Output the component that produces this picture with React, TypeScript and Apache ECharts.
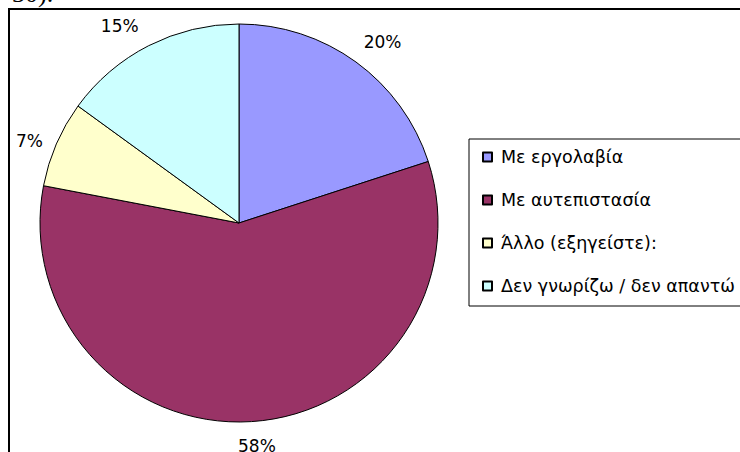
import React, { useEffect, useRef } from "react";
import * as echarts from "echarts";

const categories = ["Με εργολαβία", "Με αυτεπιστασία", "Άλλο (εξηγείστε):", "Δεν γνωρίζω / δεν απαντώ"];
const values = [20, 58, 7, 15];
const colors = ["#9999FF", "#993366", "#FFFFCC", "#CCFFFF"];

// per-slice label placement tweaks (label line length / distance), to mimic the original layout
const labelLineLengths = [25, 24, 8, 22];
const labelDistances = [-7, -15, 6, 0];

const FONT = "'DejaVu Sans', Verdana, sans-serif";

export default function App() {
  const ref = useRef<HTMLDivElement>(null);
  useEffect(() => {
    if (!ref.current) return;
    const chart = echarts.init(ref.current, null, { renderer: "svg" });
    chart.setOption({
      animation: false,
      backgroundColor: "#ffffff",
      graphic: [
        {
          type: "rect",
          shape: { x: 9, y: 9, width: 900, height: 600 },
          style: { fill: "none", stroke: "#000", lineWidth: 2 },
          silent: true,
        },
        {
          type: "text",
          x: 12,
          y: 6,
          style: {
            text: "30).",
            font: "26px 'Liberation Serif', 'Times New Roman', serif",
            fill: "#000",
            verticalAlign: "bottom",
          },
          silent: true,
        },
      ],
      legend: {
        orient: "vertical",
        left: 469,
        top: 139,
        data: categories,
        icon: "rect",
        itemWidth: 9,
        itemHeight: 9,
        itemGap: 25,
        padding: [9, 80, 11, 13],
        borderColor: "#000",
        borderWidth: 1,
        backgroundColor: "#fff",
        textStyle: {
          fontFamily: FONT,
          fontSize: 17.5,
          color: "#000",
          lineHeight: 18,
          padding: [0, 0, 0, 4],
        },
      },
      series: [
        {
          type: "pie",
          center: [239, 223],
          radius: 199,
          startAngle: 90,
          clockwise: true,
          avoidLabelOverlap: false,
          data: categories.map((name, i) => ({
            name,
            value: values[i],
            itemStyle: { color: colors[i] },
            label: { distanceToLabelLine: labelDistances[i] },
            labelLine: { length: labelLineLengths[i], length2: 0 },
          })),
          itemStyle: { borderColor: "#000", borderWidth: 1 },
          label: {
            show: true,
            position: "outside",
            formatter: "{c}%",
            fontFamily: FONT,
            fontSize: 17,
            color: "#000",
          },
          labelLine: { show: false },
          emphasis: { disabled: true },
        },
      ],
    });
    return () => chart.dispose();
  }, []);
  return (
    <div
      ref={ref}
      style={{ position: "fixed", left: 0, top: 0, width: 740, height: 452, background: "#fff" }}
    />
  );
}
